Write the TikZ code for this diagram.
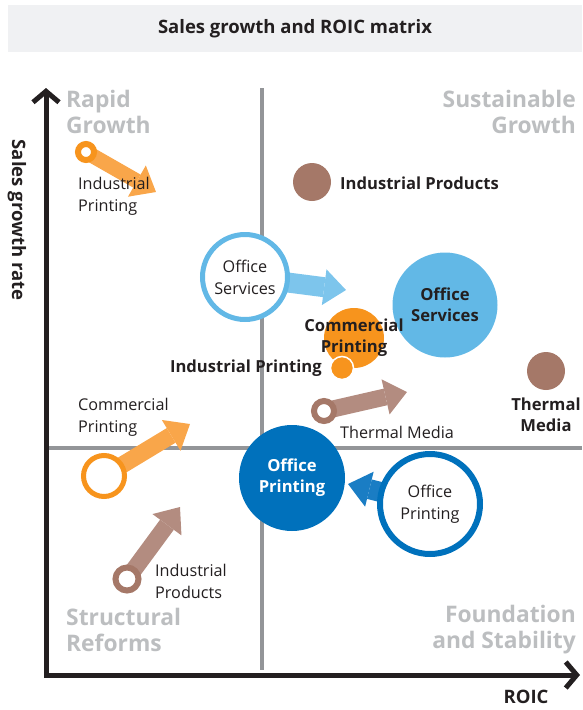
\documentclass[tikz,border=0pt]{standalone}
\usepackage{fontspec}
\setmainfont{Open Sans}
\usetikzlibrary{arrows.meta,backgrounds}

\definecolor{inkblack}{HTML}{231F20}
\definecolor{titlegray}{HTML}{F0F1F3}
\definecolor{gridgray}{HTML}{939598}
\definecolor{quadgray}{HTML}{BCBEC0}
\definecolor{brownish}{HTML}{A57868}
\definecolor{brownarrow}{HTML}{B38C80}
\definecolor{orangeish}{HTML}{F7941D}
\definecolor{orangearrow}{HTML}{F9A64A}
\definecolor{skyblue}{HTML}{62B8E6}
\definecolor{skyarrow}{HTML}{7DC5EC}
\definecolor{deepblue}{HTML}{0071BC}
\definecolor{deeparrow}{HTML}{1A7DC4}

\begin{document}
\begin{tikzpicture}[x=1pt, y=-1pt,
    oldtext/.style={font=\fontsize{16.2}{22}\selectfont, text=inkblack, inner sep=0, align=left},
    newtext/.style={font=\bfseries\fontsize{16.6}{21}\selectfont, text=inkblack, inner sep=0, align=center},
    quadtext/.style={font=\bfseries\fontsize{22.8}{26}\selectfont, text=quadgray, inner sep=0},
    headtext/.style={font=\bfseries\fontsize{18.5}{22}\selectfont, text=inkblack},
    was/.style={circle, draw=#1, fill=white, line width=5pt, inner sep=0},
    now/.style={circle, fill=#1, inner sep=0},
    move/.style={draw=#1, line width=17pt, -{Triangle[length=22pt, width=36pt, line width=0pt]}},
    axisline/.style={draw=inkblack, line width=5pt,
      {Straight Barb[length=11pt, width=26pt]}-{Straight Barb[length=11pt, width=26pt]}},
    divider/.style={draw=gridgray, line width=4pt}]
  \useasboundingbox (0,0) rectangle (582,710);

  % title band
  \node[fill=titlegray, minimum width=574pt, minimum height=47pt, inner sep=0,
    headtext] (title) at (295,28.5) {Sales growth and ROIC matrix};

  % axes
  \coordinate (origin) at (46,675);
  \coordinate (yEnd) at (46,88);
  \coordinate (xEnd) at (580,675);
  \draw[axisline] (yEnd) -- (origin) -- (xEnd);
  \node[headtext, rotate=-90] (yLabel) at (17,220) {Sales growth rate};
  \node[headtext] (xLabel) at (526,697) {ROIC};

  % quadrant names
  \node[quadtext, anchor=west, align=left] (q1) at (66,112) {Rapid\\Growth};
  \node[quadtext, anchor=east, align=right] (q2) at (576,112) {Sustainable\\Growth};
  \node[quadtext, anchor=west, align=left] (q3) at (66,630) {Structural\\Reforms};
  \node[quadtext, anchor=east, align=right] (q4) at (576,630) {Foundation\\and Stability};

  % current positions
  \node[now=brownish, minimum size=38pt] (ipdNow) at (312,182) {};
  \node[newtext, anchor=west] (ipdTag) at (340,183) {Industrial Products};
  \node[now=skyblue, minimum size=105pt] (osNow) at (445,305) {};
  \node[newtext] (osTag) at (osNow) {Office\\Services};
  \node[now=orangeish, minimum size=60pt] (cpNow) at (354,338) {};
  \node[now=orangeish, draw=white, line width=1.5pt, minimum size=23pt] (ipNow) at (342,368) {};
  \node[newtext] (cpTag) at (cpNow) {Commercial\\Printing};
  \node[newtext, anchor=east] (ipTag) at (322,368) {Industrial Printing};
  \node[now=brownish, minimum size=38pt] (tmNow) at (546,371) {};
  \node[newtext] (tmTag) at (546,415) {Thermal\\Media};
  \node[now=deepblue, minimum size=106pt] (opNow) at (292,478) {};
  \node[newtext, text=white] (opTag) at (opNow) {Office\\Printing};

  % earlier positions
  \node[was=orangeish, line width=6pt, minimum size=16pt] (ipWas) at (86,152) {};
  \node[oldtext, anchor=west] (ipOld) at (78,196) {Industrial\\Printing};
  \node[was=skyblue, minimum size=85pt] (osWas) at (245,277) {};
  \node[oldtext, align=center] (osOld) at (osWas) {Office\\Services};
  \node[was=brownish, line width=6pt, minimum size=20pt] (tmWas) at (324,411) {};
  \node[oldtext, anchor=west] (tmOld) at (340,432) {Thermal Media};
  \node[was=orangeish, minimum size=41pt] (cpWas) at (104,476) {};
  \node[oldtext, anchor=west] (cpOld) at (78,417) {Commercial\\Printing};
  \node[was=brownish, line width=6pt, minimum size=23pt] (ipdWas) at (127,579) {};
  \node[oldtext, anchor=west] (ipdOld) at (155,581) {Industrial\\Products};
  \node[was=deepblue, line width=6pt, minimum size=100pt] (opWas) at (430,504) {};
  \node[oldtext, align=center] (opOld) at (opWas) {Office\\Printing};

  % where each business is heading
  \coordinate (ipTip) at (156,192);
  \coordinate (osTip) at (346,290);
  \coordinate (tmTip) at (407,392);
  \coordinate (cpTip) at (190,424);
  \coordinate (ipdTip) at (180,507);
  \coordinate (opTip) at (348,484);

  \begin{pgfonlayer}{background}
    \draw[divider] (262,88) -- (262,670);
    \draw[divider] (46,448) -- (582,448);
    \draw[move=orangearrow, line width=15pt] (ipWas.center) -- (ipTip);
    \draw[move=skyarrow, line width=20pt] (osWas.center) -- (osTip);
    \draw[move=brownarrow] (tmWas.center) -- (tmTip);
    \draw[move=orangearrow] (cpWas.center) -- (cpTip);
    \draw[move=brownarrow] (ipdWas.center) -- (ipdTip);
    \draw[move=deeparrow, line width=20pt] (opWas.center) -- (opTip);
  \end{pgfonlayer}
\end{tikzpicture}
\end{document}
